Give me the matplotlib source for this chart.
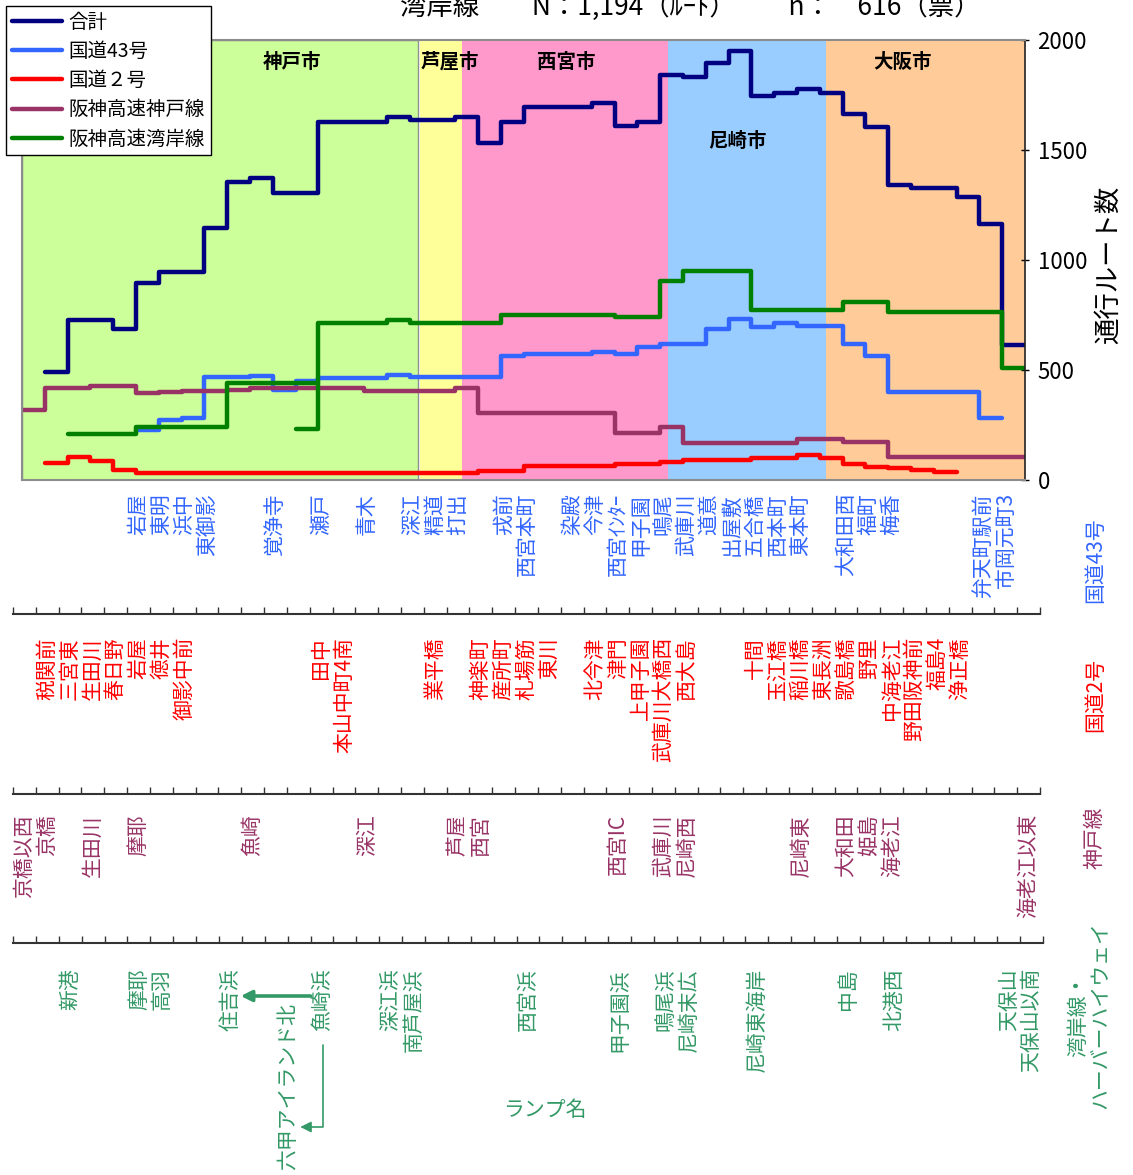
import numpy as np
import matplotlib.pyplot as plt
from matplotlib.transforms import offset_copy

plt.rcParams['font.family'] = ['Noto Sans CJK JP', 'DejaVu Sans']

W, H = 1133, 1175

# ---- line data (one value per segment between intersections) ----
total_first = 1
total = [492, 727, 727, 685, 894, 944, 944, 1147, 1356, 1371, 1303, 1303,
         1629, 1629, 1629, 1652, 1636, 1636, 1648, 1533, 1629, 1697, 1697,
         1697, 1712, 1609, 1629, 1841, 1830, 1894, 1951, 1745, 1760, 1776,
         1760, 1664, 1606, 1341, 1326, 1326, 1285, 1164, 614]

r43_first = 5
r43 = [227, 273, 280, 468, 470, 473, 410, 451, 462, 462, 462, 477, 470, 470,
       470, 470, 564, 573, 573, 573, 583, 573, 603, 618, 618, 685, 732, 694,
       712, 701, 701, 618, 564, 401, 401, 401, 401, 280]

r2_first = 1
r2 = [79, 106, 88, 45] + [30] * 15 + [42, 42, 64, 64, 64, 64, 73, 73, 83,
      91, 91, 91, 98, 98, 114, 98, 73, 61, 53, 45, 38]

kobe_first = 0
kobe = [318, 420, 420, 429, 429, 397, 400, 403, 406, 410, 420, 420, 420, 420,
        420, 406, 406, 406, 406, 420, 303, 303, 303, 303, 303, 303, 212, 212,
        239, 167, 167, 167, 167, 167, 185, 185, 171, 171, 103, 103, 103, 103,
        103, 103]

wangan_w_first = 2
wangan_w = [208, 208, 208, 242, 242, 242, 242, 442, 442, 442, 442]
wangan_e_first = 12
wangan_e = [230, 712, 712, 712, 727, 715, 715, 715, 715, 750, 750, 750, 750,
            750, 740, 740, 906, 952, 952, 952, 773, 773, 773, 773, 807, 807,
            765, 765, 765, 765, 765, 508]

# ---- city areas ----
cities = ['神戸市', '芦屋市', '西宮市', '尼崎市', '大阪市']
city_start = [0, 17.45, 19.3, 28.35, 35.26]
city_end = [17.37, 19.3, 28.35, 35.26, 44]
city_colors = ['#CCFF99', '#FFFF99', '#FF99CC', '#99CCFF', '#FFCC99']
city_lx = [11.84, 18.77, 23.86, 31.4, 38.64]
city_ly = [1900, 1900, 1900, 1540, 1900]

# ---- intersection / ramp names (index of interval on the ramp scale) ----
r43_idx = [5, 6, 7, 8, 11, 13, 15, 17, 18, 19, 21, 22, 24, 25, 26, 27, 28,
           29, 30, 31, 32, 33, 34, 36, 37, 38, 42, 43]
r43_names = ['岩屋', '東明', '浜中', '東御影', '覚浄寺', '瀬戸', '青木', '深江',
             '精道', '打出', '戎前', '西宮本町', '染殿', '今津', '西宮ｲﾝﾀｰ',
             '甲子園', '鳴尾', '武庫川', '道意', '出屋敷', '五合橋', '西本町',
             '東本町', '大和田西', '福町', '梅香', '弁天町駅前', '市岡元町3']

r2_idx = [1, 2, 3, 4, 5, 6, 7, 13, 14, 18, 20, 21, 22, 23, 25, 26, 27, 28,
          29, 32, 33, 34, 35, 36, 37, 38, 39, 40, 41]
r2_names = ['税関前', '三宮東', '生田川', '春日野', '岩屋', '徳井', '御影中前',
            '田中', '本山中町4南', '業平橋', '神楽町', '産所町', '札場筋', '東川',
            '北今津', '津門', '上甲子園', '武庫川大橋西', '西大島', '十間',
            '玉江橋', '稲川橋', '東長洲', '歌島橋', '野里', '中海老江',
            '野田阪神前', '福島4', '浄正橋']

kb_idx = [0, 1, 3, 5, 10, 15, 19, 20, 26, 28, 29, 34, 36, 37, 38, 44]
kb_names = ['京橋以西', '京橋', '生田川', '摩耶', '魚崎', '深江', '芦屋', '西宮',
            '西宮IC', '武庫川', '尼崎西', '尼崎東', '大和田', '姫島', '海老江',
            '海老江以東']

wg_idx = [2, 5, 6, 9, 13, 16, 17, 22, 26, 28, 29, 32, 36, 38, 43, 44]
wg_names = ['新港', '摩耶', '高羽', '住吉浜', '魚崎浜', '深江浜', '南芦屋浜',
            '西宮浜', '甲子園浜', '鳴尾浜', '尼崎末広', '尼崎東海岸', '中島',
            '北港西', '天保山', '天保山以南']

C_TOTAL = '#000080'
C_43 = '#3366FF'
C_2 = '#FF0000'
C_KOBE = '#993366'
C_WANGAN = '#008000'
C_RAMP = '#339966'


def px_box(x0, y0, x1, y1):
    return [x0 / W, 1 - y1 / H, (x1 - x0) / W, (y1 - y0) / H]


def steps(first, vals):
    edges = np.arange(first, first + len(vals) + 1)
    return np.repeat(edges, 2)[1:-1], np.repeat(vals, 2)


fig = plt.figure(figsize=(W / 100, H / 100), dpi=100)

# ================= main chart =================
ax = fig.add_axes(px_box(22, 40, 1025, 480))
ax.set_xlim(0, 44)
ax.set_ylim(0, 2000)

for i, c in enumerate(cities):
    if i == 0:
        ax.axvspan(city_start[i], city_end[i], facecolor=city_colors[i],
                   edgecolor='#909090', lw=1, zorder=0)
    else:
        ax.axvspan(city_start[i], city_end[i], color=city_colors[i], lw=0, zorder=0)
    ax.text(city_lx[i], city_ly[i], c, ha='center', va='center',
            fontsize=14, fontweight='bold', zorder=5)

lw = 3.2
kw = dict(lw=lw, solid_joinstyle='round', solid_capstyle='round')
ax.plot(*steps(total_first, total), color=C_TOTAL, label='合計', **kw)
ax.plot(*steps(r43_first, r43), color=C_43, label='国道43号', **kw)
ax.plot(*steps(r2_first, r2), color=C_2, label='国道２号', **kw)
ax.plot(*steps(kobe_first, kobe), color=C_KOBE, label='阪神高速神戸線', **kw)
ax.plot(*steps(wangan_w_first, wangan_w), color=C_WANGAN, label='阪神高速湾岸線', **kw)
ax.plot(*steps(wangan_e_first, wangan_e), color=C_WANGAN, **kw)

ax.set_xticks([])
ax.yaxis.tick_right()
ax.set_yticks([0, 500, 1000, 1500, 2000])
ax.tick_params(axis='y', direction='inout', length=6, width=1, labelsize=16, pad=6)
for s in ['left', 'top', 'bottom']:
    ax.spines[s].set_color('#8c8c8c')
    ax.spines[s].set_linewidth(1.5)
ax.spines['right'].set_color('#222222')
ax.spines['right'].set_linewidth(1.2)

fig.text(1108 / W, 1 - 265 / H, '通行ルート数', rotation=90, ha='center',
         va='center', fontsize=19)

fig.legend(*ax.get_legend_handles_labels(), loc='upper left',
           bbox_to_anchor=(6 / W, 1 - 6 / H), bbox_transform=fig.transFigure,
           borderaxespad=0, fontsize=14, frameon=True, fancybox=False,
           edgecolor='black', framealpha=1, handlelength=2.6,
           handletextpad=0.3, labelspacing=0.42, borderpad=0.3)
fig.legends[0].get_frame().set_linewidth(1)

fig.text(400 / W, 1 - 15 / H, '湾岸線　　N：1,194（ﾙｰﾄ）　　n：　616（票）',
         ha='left', va='baseline', fontsize=19)

# ================= ramp / intersection scales =================
def ramp_axis(y_line, x1=1040):
    r = fig.add_axes(px_box(13, y_line - 12, x1, y_line))
    r.set_xlim(0, 45)
    r.set_ylim(0, 1)
    r.patch.set_visible(False)
    for s in ['left', 'right', 'top']:
        r.spines[s].set_visible(False)
    r.spines['bottom'].set_color('#333333')
    r.spines['bottom'].set_linewidth(1.5)
    r.set_xticks(np.arange(46))
    r.set_xticklabels([])
    r.set_yticks([])
    r.tick_params(axis='x', direction='in', length=5, width=1, color='#333333')
    return r


def names(r, idx, labels, dy_px, color, dx=0.5):
    for k, t in zip(idx, labels):
        tr = offset_copy(r.get_xaxis_transform(), fig=fig, y=-dy_px * 0.72,
                         units='points')
        r.text(k + dx, 0, t, transform=tr, rotation=90, ha='center', va='top',
               fontsize=15, color=color)


ra = ramp_axis(614)
rb = ramp_axis(794)
rc = ramp_axis(943, 1043)

names(ra, r43_idx, r43_names, -121, C_43)
names(ra, r2_idx, r2_names, 23, C_2)
names(rb, kb_idx, kb_names, 20, C_KOBE)
names(rc, wg_idx, wg_names, 25, C_RAMP)
names(rc, [12], ['六甲アイランド北'], 60, C_RAMP, dx=0.0)

# arrows for the 魚崎浜 ramp
t1 = offset_copy(rc.get_xaxis_transform(), fig=fig, y=-53 * 0.72, units='points')
rc.annotate('', xy=(9.95, 0), xycoords=t1, xytext=(13.0, 0), textcoords=t1,
            arrowprops=dict(arrowstyle='-|>', color=C_RAMP, lw=2.6,
                            mutation_scale=16, shrinkA=0, shrinkB=0))
t2 = offset_copy(rc.get_xaxis_transform(), fig=fig, y=-102 * 0.72, units='points')
t3 = offset_copy(rc.get_xaxis_transform(), fig=fig, y=-184 * 0.72, units='points')
rc.annotate('', xy=(12.55, 0), xycoords=t3, xytext=(13.55, 0), textcoords=t2,
            arrowprops=dict(arrowstyle='-|>', color=C_RAMP, lw=1.2,
                            mutation_scale=16, shrinkA=0, shrinkB=0,
                            connectionstyle='angle,angleA=-90,angleB=0,rad=0'))

# row titles
fig.text(1095 / W, 1 - 560 / H, '国道43号', rotation=90, ha='center',
         va='center', fontsize=15, color=C_43)
fig.text(1095 / W, 1 - 695 / H, '国道2号', rotation=90, ha='center',
         va='center', fontsize=15, color=C_2)
fig.text(1095 / W, 1 - 838 / H, '神戸線', rotation=90, ha='center',
         va='center', fontsize=15, color=C_KOBE)
fig.text(1089 / W, 1 - 1015 / H, '湾岸線・\nハーバーハイウェイ', rotation=90,
         ha='center', va='center', multialignment='center', fontsize=15,
         color=C_RAMP, linespacing=1.0)
fig.text(545 / W, 1 - 1110 / H, 'ランプ名', ha='center', va='center',
         fontsize=15, color=C_RAMP)

fig.savefig('out.png', dpi=100)
